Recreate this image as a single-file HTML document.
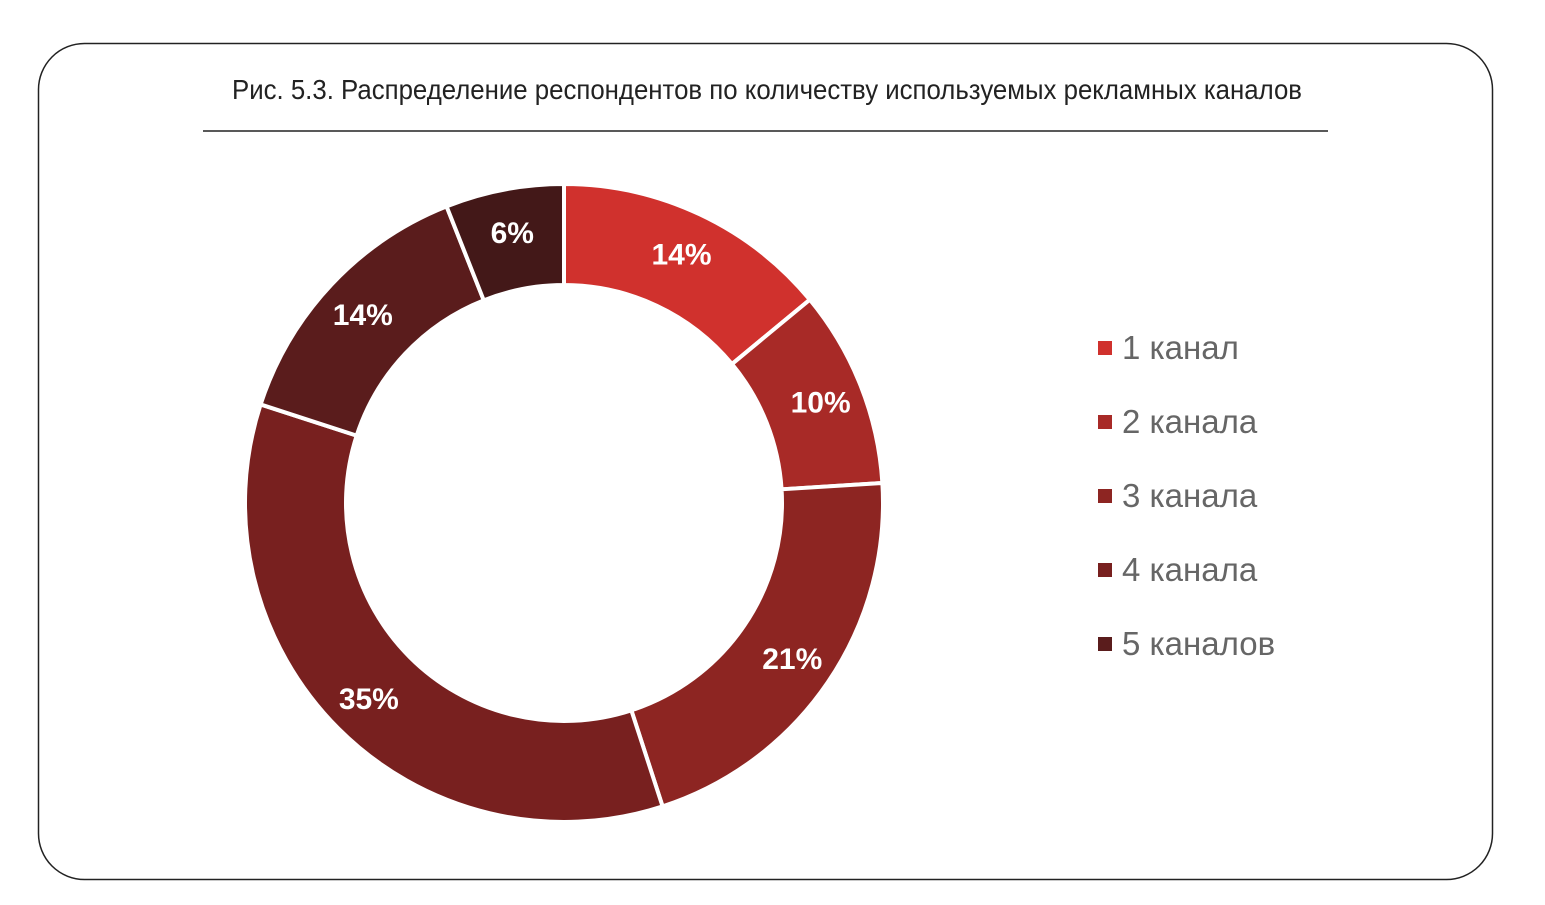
<!DOCTYPE html>
<html><head><meta charset="utf-8"><style>
body{margin:0;background:#fff;width:1545px;height:900px;overflow:hidden;font-family:"Liberation Sans",sans-serif}
</style></head><body>
<svg width="1545" height="900">
<rect x="38.5" y="43.5" width="1454" height="836" rx="46" fill="#fff" stroke="#222" stroke-width="1.5"/>
<text x="767" y="99" text-anchor="middle" font-size="28" fill="#222" textLength="1070" lengthAdjust="spacingAndGlyphs">Рис. 5.3. Распределение респондентов по количеству используемых рекламных каналов</text>
<line x1="203" y1="131" x2="1328" y2="131" stroke="#222" stroke-width="1.5"/>
<g id="donut"></g>
<g id="legend"></g>
</svg>
<script>
const values=[14,10,21,35,14,6];
const labels=["14%","10%","21%","35%","14%","6%"];
const colors=["#D0312D","#A82A27","#8D2522","#78201F","#5A1C1C","#431818"];
const legendLabels=["1 канал","2 канала","3 канала","4 канала","5 каналов"];
const NS="http://www.w3.org/2000/svg";
const cx=564,cy=503,R=319,r=218;
const g=document.getElementById('donut');
const total=values.reduce((a,b)=>a+b,0);
function pt(a,rad){return [cx+rad*Math.sin(a),cy-rad*Math.cos(a)];}
let acc=0;
values.forEach((v,i)=>{
 const a0=acc/total*2*Math.PI;acc+=v;const a1=acc/total*2*Math.PI;
 const large=(a1-a0)>Math.PI?1:0;
 const p0=pt(a0,R),p1=pt(a1,R),q1=pt(a1,r),q0=pt(a0,r);
 const p=document.createElementNS(NS,'path');
 p.setAttribute('d',`M${p0}A${R},${R} 0 ${large} 1 ${p1}L${q1}A${r},${r} 0 ${large} 0 ${q0}Z`);
 p.setAttribute('fill',colors[i]);p.setAttribute('stroke','#fff');p.setAttribute('stroke-width','4');
 
 
 g.appendChild(p);
 const m=pt((a0+a1)/2,276);
 const t=document.createElementNS(NS,'text');
 t.setAttribute('x',m[0]);t.setAttribute('y',m[1]+11);t.setAttribute('text-anchor','middle');
 t.setAttribute('font-size','30');t.setAttribute('font-weight','bold');t.setAttribute('fill','#fff');
 t.textContent=labels[i];
 
 
 g.appendChild(t);
});
const lg=document.getElementById('legend');
legendLabels.forEach((s,i)=>{
 const y=348+i*74;
 const sq=document.createElementNS(NS,'rect');
 sq.setAttribute('x',1098);sq.setAttribute('y',y-7);sq.setAttribute('width',14);sq.setAttribute('height',14);sq.setAttribute('fill',colors[i]);
 
 
 lg.appendChild(sq);
 const t=document.createElementNS(NS,'text');
 t.setAttribute('x',1122);t.setAttribute('y',y+11);t.setAttribute('font-size','33');t.setAttribute('fill','#666');
 t.textContent=s;
 
 
 lg.appendChild(t);
});
</script>
</body></html>
